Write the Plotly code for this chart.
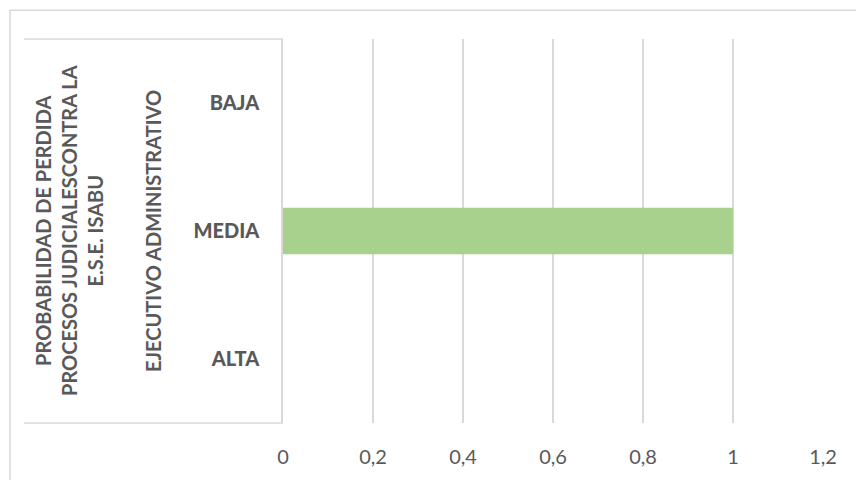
import plotly.graph_objects as go

# Probabilidad de pérdida por categoría
categorias = ["ALTA", "MEDIA", "BAJA"]
valores = [0, 1, 0]
ticks_x = [0, 0.2, 0.4, 0.6, 0.8, 1.0, 1.2]

grupo = "EJECUTIVO ADMINISTRATIVO"
titulo = "PROBABILIDAD DE PERDIDA<br>PROCESOS JUDICIALESCONTRA LA<br>E.S.E. ISABU"

W, H = 856, 480
L, R, T, B = 283, 823, 39, 425
TXT = "#595959"
GRID = "#d9d9d9"
FONT = "Lato, Calibri, sans-serif"


def px_x(px):
    return (px - L) / (R - L)


def px_y(py):
    return (B - py) / (B - T)


fig = go.Figure(
    go.Bar(
        x=valores,
        y=categorias,
        orientation="h",
        marker=dict(color="#a9d18e", line=dict(width=0)),
        hoverinfo="x+y",
    )
)

fig.update_layout(
    width=W,
    height=H,
    margin=dict(l=L, r=W - R, t=T, b=H - B),
    paper_bgcolor="white",
    plot_bgcolor="white",
    separators=",.",
    bargap=0.635,
    showlegend=False,
    font=dict(family=FONT, color=TXT),
)

fig.update_xaxes(
    range=[0, 1.2],
    tickvals=ticks_x,
    showgrid=True,
    gridcolor=GRID,
    gridwidth=1.5,
    zeroline=False,
    showline=False,
    ticks="",
    ticklabelstandoff=20,
    tickfont=dict(size=20, color=TXT, family=FONT),
    fixedrange=True,
)

fig.update_yaxes(
    categoryorder="array",
    categoryarray=categorias,
    showgrid=False,
    zeroline=False,
    showline=True,
    linecolor=GRID,
    linewidth=1.5,
    ticks="",
    ticklabelstandoff=18,
    tickfont=dict(size=20, color=TXT, family="Lato Black, Lato, sans-serif", weight="bold"),
    fixedrange=True,
)

shapes = []
# Outer chart border
shapes.append(dict(type="rect", xref="paper", yref="paper",
                   x0=px_x(10), x1=px_x(870), y0=px_y(495), y1=px_y(10),
                   line=dict(color=GRID, width=1.5), fillcolor="rgba(0,0,0,0)", layer="below"))
# Category label box lines
for py in (T, B):
    shapes.append(dict(type="line", xref="paper", yref="paper",
                       x0=px_x(24), x1=0, y0=px_y(py), y1=px_y(py),
                       line=dict(color=GRID, width=1.5)))
fig.update_layout(shapes=shapes)

fig.add_annotation(
    text=f"<b>{grupo}</b>", textangle=-90,
    xref="paper", yref="paper", x=px_x(153), y=0.5,
    xanchor="center", yanchor="middle", showarrow=False,
    font=dict(size=20, color=TXT, family=FONT),
)
fig.add_annotation(
    text=f"<b>{titulo}</b>", textangle=-90,
    xref="paper", yref="paper", x=px_x(69), y=0.5,
    xanchor="center", yanchor="middle", showarrow=False,
    font=dict(size=20, color=TXT, family=FONT),
)

fig.write_html("out.html")
